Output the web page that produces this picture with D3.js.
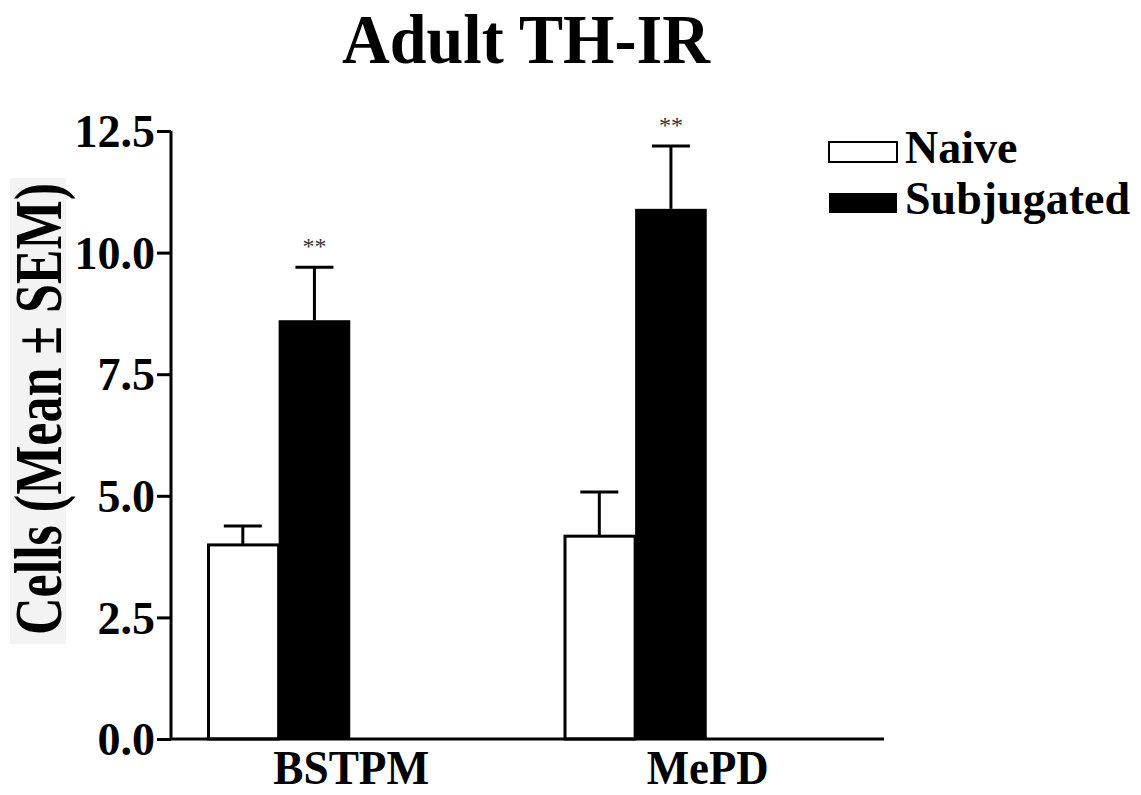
<!DOCTYPE html>
<html>
<head>
<meta charset="utf-8">
<script src="https://cdn.jsdelivr.net/npm/d3@7"></script>
<style>
  html, body { margin: 0; padding: 0; background: #fff; }
  svg { display: block; }
  text { font-family: "Liberation Serif", "Times New Roman", serif; }
</style>
</head>
<body>
<div id="chart"></div>
<script>
// data
const categories = ["BSTPM", "MePD"];
const groups = ["Naive", "Subjugated"];
const naiveMean = [3.99, 4.17];
const naiveSem = [0.39, 0.91];
const subjMean = [8.61, 10.90];
const subjSem = [1.09, 1.29];
const sigLabels = ["**", "**"];
const yTicks = [0, 2.5, 5, 7.5, 10, 12.5];

const width = 1141, height = 795;
const margin = { left: 171, right: 257, top: 131, bottom: 56 };

const svg = d3.select("#chart").append("svg")
  .attr("width", width)
  .attr("height", height);

const x = d3.scaleBand()
  .domain(categories)
  .range([margin.left, width - margin.right])
  .paddingInner(0).paddingOuter(0);

// bars sit in the left half of each band
const xSub = d3.scaleBand()
  .domain(groups)
  .range([36, x.bandwidth() / 2 + 1]);

const y = d3.scaleLinear()
  .domain([0, 12.5])
  .range([height - margin.bottom, margin.top]);

const rows = categories.map((c, i) => [
  { cat: c, grp: "Naive", mean: naiveMean[i], sem: naiveSem[i] },
  { cat: c, grp: "Subjugated", mean: subjMean[i], sem: subjSem[i], sig: sigLabels[i] }
]).flat();

// title
svg.append("text")
  .attr("x", 526).attr("y", 63)
  .attr("text-anchor", "middle")
  .style("font-size", "70px")
  .style("font-weight", "bold")
  .attr("textLength", 368)
  .attr("lengthAdjust", "spacingAndGlyphs")
  .text("Adult TH-IR");

// y label with its pale backing
svg.append("rect")
  .attr("x", 10).attr("y", 178)
  .attr("width", 56).attr("height", 466)
  .attr("fill", "#f3f3f3");

svg.append("text")
  .attr("transform", `translate(61,409) rotate(-90)`)
  .attr("text-anchor", "middle")
  .style("font-size", "68px")
  .style("font-weight", "bold")
  .attr("textLength", 452)
  .attr("lengthAdjust", "spacingAndGlyphs")
  .text("Cells (Mean \u00b1 SEM)");

// bars
const g = svg.append("g");

g.selectAll("rect.bar")
  .data(rows)
  .enter().append("rect")
  .attr("class", "bar")
  .attr("x", d => x(d.cat) + xSub(d.grp) + (d.grp === "Naive" ? 1.5 : 0))
  .attr("width", d => xSub.bandwidth() - (d.grp === "Naive" ? 1.5 : 0))
  .attr("y", d => y(d.mean))
  .attr("height", d => y(0) - y(d.mean))
  .attr("fill", d => d.grp === "Naive" ? "#fff" : "#000")
  .attr("stroke", d => d.grp === "Naive" ? "#000" : "none")
  .attr("stroke-width", 3);

// error bars (upper only)
const err = g.selectAll("g.err")
  .data(rows)
  .enter().append("g")
  .attr("class", "err")
  .attr("transform", d => `translate(${x(d.cat) + xSub(d.grp) + xSub.bandwidth() / 2},0)`);

err.append("line")
  .attr("y1", d => y(d.mean))
  .attr("y2", d => y(d.mean + d.sem))
  .attr("stroke", "#000").attr("stroke-width", 3);

err.append("line")
  .attr("x1", -19).attr("x2", 19)
  .attr("y1", d => y(d.mean + d.sem))
  .attr("y2", d => y(d.mean + d.sem))
  .attr("stroke", "#000").attr("stroke-width", 3);

err.filter(d => d.sig)
  .append("text")
  .attr("y", d => y(d.mean + d.sem) - 13)
  .attr("text-anchor", "middle")
  .attr("fill", "#333")
  .style("font-size", "24px")
  .text(d => d.sig);

// axes
const yAxis = d3.axisLeft(y)
  .tickValues(yTicks)
  .tickFormat(d3.format(".1f"))
  .tickSize(14)
  .tickPadding(2);

const ya = svg.append("g")
  .attr("transform", `translate(${margin.left},0)`)
  .call(yAxis);
ya.select(".domain").attr("stroke-width", 3).attr("d", `M0,${y(12.5)}V${y(0)}`);
ya.selectAll(".tick line").attr("stroke-width", 3);
ya.selectAll(".tick text")
  .attr("fill", "#000")
  .style("font-family", "'Liberation Serif', serif")
  .style("font-size", "46px")
  .style("font-weight", "bold")
  .attr("dy", "0.34em");

const xAxis = d3.axisBottom(x).tickSize(0).tickPadding(0);
const xa = svg.append("g")
  .attr("transform", `translate(0,${y(0)})`)
  .call(xAxis);
xa.select(".domain").attr("stroke-width", 3).attr("d", `M${margin.left},0H${width - margin.right}`);
xa.selectAll(".tick text")
  .attr("fill", "#000")
  .attr("x", 2).attr("y", 45).attr("dy", 0)
  .style("font-family", "'Liberation Serif', serif")
  .style("font-size", "49px")
  .style("font-weight", "bold")
  .attr("textLength", d => d === "BSTPM" ? 156 : 122)
  .attr("lengthAdjust", "spacingAndGlyphs");

// legend
const legend = svg.append("g").attr("transform", "translate(828,0)");
const legY = [142, 193];
const leg = legend.selectAll("g")
  .data(groups)
  .enter().append("g")
  .attr("transform", (d, i) => `translate(0,${legY[i]})`);

leg.append("rect")
  .attr("x", 1).attr("y", 0)
  .attr("width", 68).attr("height", 20)
  .attr("fill", d => d === "Naive" ? "#fff" : "#000")
  .attr("stroke", "#000")
  .attr("stroke-width", d => d === "Naive" ? 2 : 0);

leg.append("text")
  .attr("x", 77).attr("y", 21)
  .style("font-size", "46px")
  .style("font-weight", "bold")
  .text(d => d);
</script>
</body>
</html>
